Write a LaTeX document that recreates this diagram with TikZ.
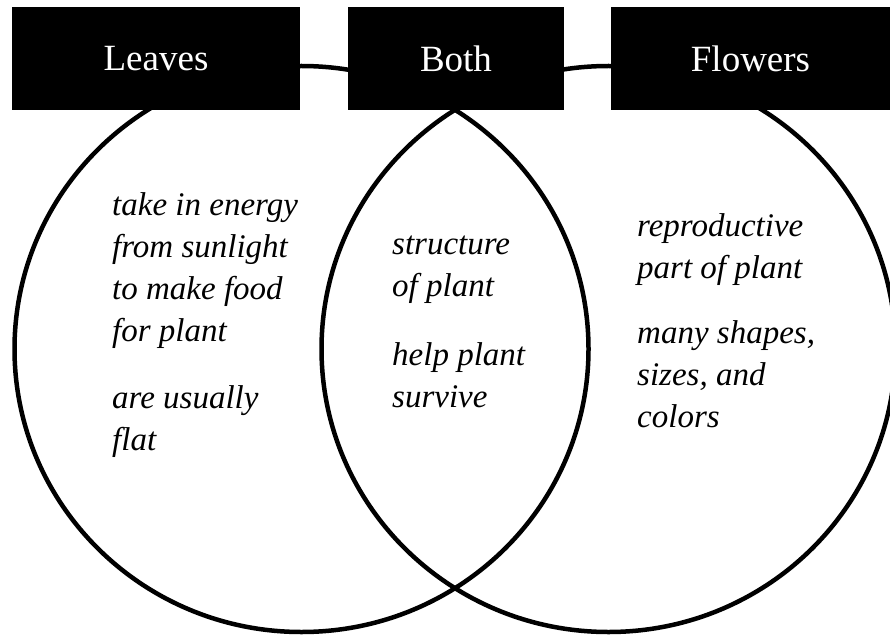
\documentclass[tikz,border=0pt]{standalone}
\usepackage{fontspec}
\setmainfont{Liberation Serif}
\begin{document}
\begin{tikzpicture}[x=1pt,y=-1pt,
  ring/.style={draw=black,line width=4.5pt},
  headbox/.style={fill=black,text=white,inner sep=0pt,minimum height=103pt,font=\fontsize{37}{40}\selectfont},
  body/.style={align=left,inner sep=0pt,anchor=base west,font=\fontsize{33}{42}\selectfont\itshape}]
\useasboundingbox (0,0) rectangle (890,636);
\clip (0,0) rectangle (890,636);
\fill[white] (0,0) rectangle (890,636);
\draw[ring] (301.5,349) ellipse [x radius=287pt, y radius=283pt];
\draw[ring] (608.5,349) ellipse [x radius=287pt, y radius=283pt];
\node[headbox,minimum width=288pt] (leaves) at (156,58.5) {Leaves};
\node[headbox,minimum width=216pt] (both) at (456,58.5) {Both};
\node[headbox,minimum width=279pt] (flowers) at (750.5,58.5) {Flowers};
\node[body] (ltext) at (112,450) {take in energy\\from sunlight\\to make food\\for plant\\[25pt]are usually\\flat};
\node[body] (btext) at (392,407) {structure\\of plant\\[27pt]help plant\\survive};
\node[body] (ftext) at (637,427) {reproductive\\part of plant\\[23pt]many shapes,\\sizes, and\\colors};
\end{tikzpicture}
\end{document}
